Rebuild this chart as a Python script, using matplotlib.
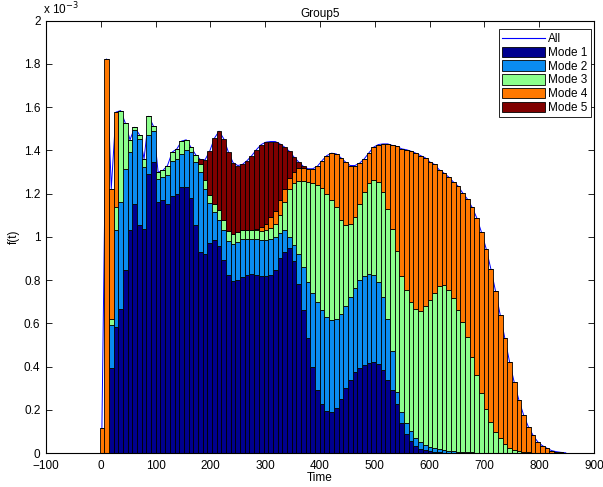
import numpy as np
import matplotlib
matplotlib.use('Agg')
import matplotlib.pyplot as plt
from matplotlib.patches import Patch
from matplotlib.lines import Line2D

plt.rcParams['font.family'] = ['Liberation Sans', 'DejaVu Sans']

# bin centres (Time) and cumulative tops of each layer, in units of 1e-3
bin_start = 2.0
bin_width = 8.55
n_bins = 100

top_mode1 = [0, 0, 0.391, 0.583, 0.668, 0.845, 1.03, 1.153, 1.053, 1.038,
             1.292, 1.346, 1.161, 1.17, 1.153, 1.19, 1.2, 1.23, 1.23, 1.18,
             1.053, 0.93, 0.919, 0.971, 0.987, 0.958, 0.891, 0.822, 0.794, 0.80,
             0.815, 0.825, 0.827, 0.822, 0.818, 0.818, 0.822, 0.845, 0.90, 0.93,
             0.95, 0.89, 0.78, 0.66, 0.53, 0.40, 0.29, 0.225, 0.195, 0.19,
             0.21, 0.25, 0.30, 0.34, 0.375, 0.395, 0.408, 0.415, 0.42, 0.41,
             0.385, 0.34, 0.29, 0.225, 0.14, 0.09, 0.055, 0.033, 0.02, 0.012,
             0.008, 0.005, 0.003, 0.002, 0.001, 0, 0, 0, 0, 0,
             0, 0, 0, 0, 0, 0, 0, 0, 0, 0,
             0, 0, 0, 0, 0, 0, 0, 0, 0, 0]

top_mode2 = [0, 0, 0.591, 1.033, 1.161, 1.315, 1.392, 1.494, 1.453, 1.323,
             1.472, 1.49, 1.266, 1.276, 1.284, 1.353, 1.361, 1.384, 1.40, 1.392,
             1.346, 1.299, 1.223, 1.155, 1.115, 1.08, 1.03, 0.98, 0.969, 0.976,
             0.99, 0.99, 0.99, 0.99, 0.985, 0.985, 0.99, 1.0, 1.02, 1.03,
             1.0, 0.96, 0.92, 0.86, 0.79, 0.74, 0.70, 0.66, 0.63, 0.615,
             0.62, 0.645, 0.68, 0.72, 0.765, 0.80, 0.82, 0.83, 0.825, 0.79,
             0.72, 0.62, 0.47, 0.28, 0.19, 0.14, 0.10, 0.07, 0.05, 0.038,
             0.029, 0.022, 0.017, 0.013, 0.01, 0.008, 0.006, 0.005, 0.004, 0.003,
             0.002, 0.001, 0, 0, 0, 0, 0, 0, 0, 0,
             0, 0, 0, 0, 0, 0, 0, 0, 0, 0]

top_mode3 = [0, 0, 0.622, 1.14, 1.584, 1.526, 1.449, 1.507, 1.473, 1.361,
             1.558, 1.512, 1.299, 1.307, 1.330, 1.392, 1.407, 1.443, 1.449, 1.415,
             1.38, 1.338, 1.261, 1.192, 1.153, 1.124, 1.076, 1.027, 1.015, 1.022,
             1.03, 1.03, 1.03, 1.03, 1.025, 1.03, 1.04, 1.06, 1.10, 1.16,
             1.22, 1.25, 1.26, 1.26, 1.255, 1.25, 1.24, 1.225, 1.20, 1.17,
             1.137, 1.079, 1.056, 1.058, 1.092, 1.150, 1.207, 1.249, 1.264, 1.253,
             1.207, 1.130, 1.038, 0.933, 0.82, 0.753, 0.697, 0.664, 0.657, 0.678,
             0.707, 0.742, 0.772, 0.775, 0.752, 0.715, 0.66, 0.605, 0.537, 0.445,
             0.36, 0.276, 0.204, 0.145, 0.098, 0.068, 0.041, 0.024, 0.014, 0.008,
             0.005, 0.003, 0.002, 0.001, 0, 0, 0, 0, 0, 0]

top_mode4 = [0.114, 1.823, 1.223, 1.577, 1.584, 1.526, 1.449, 1.507, 1.473, 1.361,
             1.558, 1.512, 1.299, 1.307, 1.330, 1.392, 1.407, 1.443, 1.449, 1.415,
             1.38, 1.338, 1.261, 1.192, 1.153, 1.124, 1.076, 1.027, 1.015, 1.022,
             1.03, 1.03, 1.03, 1.035, 1.045, 1.06, 1.09, 1.12, 1.17, 1.22,
             1.27, 1.30, 1.32, 1.32, 1.315, 1.315, 1.327, 1.353, 1.376, 1.387,
             1.384, 1.366, 1.346, 1.330, 1.330, 1.341, 1.361, 1.389, 1.415, 1.427,
             1.430, 1.430, 1.423, 1.418, 1.407, 1.403, 1.396, 1.387, 1.376, 1.366,
             1.346, 1.335, 1.310, 1.295, 1.277, 1.254, 1.235, 1.203, 1.175, 1.137,
             1.088, 1.022, 0.946, 0.853, 0.750, 0.640, 0.53, 0.422, 0.327, 0.245,
             0.176, 0.122, 0.083, 0.052, 0.034, 0.022, 0.011, 0.006, 0.003, 0.001]

total = [0.114, 1.823, 1.223, 1.577, 1.584, 1.526, 1.449, 1.507, 1.473, 1.361,
         1.558, 1.512, 1.299, 1.307, 1.330, 1.392, 1.407, 1.443, 1.449, 1.415,
         1.38, 1.358, 1.356, 1.396, 1.456, 1.489, 1.454, 1.392, 1.343, 1.330,
         1.335, 1.353, 1.376, 1.404, 1.427, 1.438, 1.441, 1.441, 1.430, 1.415,
         1.396, 1.369, 1.346, 1.326, 1.315, 1.315, 1.327, 1.353, 1.376, 1.387,
         1.384, 1.366, 1.346, 1.330, 1.330, 1.341, 1.361, 1.389, 1.415, 1.427,
         1.430, 1.430, 1.423, 1.418, 1.407, 1.403, 1.396, 1.387, 1.376, 1.366,
         1.346, 1.335, 1.310, 1.295, 1.277, 1.254, 1.235, 1.203, 1.175, 1.137,
         1.088, 1.022, 0.946, 0.853, 0.750, 0.640, 0.53, 0.422, 0.327, 0.245,
         0.176, 0.122, 0.083, 0.052, 0.034, 0.022, 0.011, 0.006, 0.003, 0.001]

mode_names = ['Mode 1', 'Mode 2', 'Mode 3', 'Mode 4', 'Mode 5']
mode_colors = ['#00008f', '#0a8cf0', '#8cff8c', '#ff7800', '#800000']

#%%

x = bin_start + bin_width * np.arange(n_bins)
tops = np.vstack([top_mode1, top_mode2, top_mode3, top_mode4, total])
lower = np.vstack([np.zeros(n_bins), tops[:-1]])
heights = np.clip(tops - lower, 0, None)

fig = plt.figure(figsize=(6.03, 4.87), dpi=100)
ax = fig.add_axes([0.0763, 0.0698, 0.9088, 0.8877])

ax.plot(x, total, color='b', lw=0.7, zorder=1)
for k in range(5):
    ax.bar(x, heights[k], width=bin_width, bottom=lower[k], color=mode_colors[k],
           edgecolor='k', linewidth=0.6, zorder=2)

ax.set_xlim(-100, 900)
ax.set_ylim(0, 2)
ax.set_xticks(np.arange(-100, 901, 100))
ax.set_yticks(np.arange(0, 2.01, 0.2))
ax.set_yticklabels(['0', '0.2', '0.4', '0.6', '0.8', '1', '1.2', '1.4', '1.6', '1.8', '2'])
ax.tick_params(direction='in', top=True, right=True, labelsize=8.5, length=4, width=0.6)
ax.tick_params(axis='x', pad=5)
ax.tick_params(axis='y', pad=4)
for s in ax.spines.values():
    s.set_linewidth(0.8)

ax.set_title('Group5', fontsize=8.5, pad=3)
ax.set_xlabel('Time', fontsize=8.5, labelpad=0)
ax.set_ylabel('f(t)', fontsize=8.5, labelpad=3)
ax.text(-0.005, 1.008, r'x 10$^{-3}$', transform=ax.transAxes, fontsize=8.5,
        ha='left', va='bottom')

handles = [Line2D([0], [0], color='b', lw=0.8)]
handles += [Patch(facecolor=c, edgecolor='k', linewidth=0.6) for c in mode_colors]
leg = ax.legend(handles, ['All'] + mode_names, loc='upper right',
                bbox_to_anchor=(0.995, 0.98), fontsize=8.5,
                fancybox=False, framealpha=1, edgecolor='k', borderpad=0.3,
                labelspacing=0.12, handlelength=3.6, handleheight=1.0,
                handletextpad=0.3, borderaxespad=0)
leg.get_frame().set_linewidth(0.6)

fig.savefig('out.png', dpi=100)
